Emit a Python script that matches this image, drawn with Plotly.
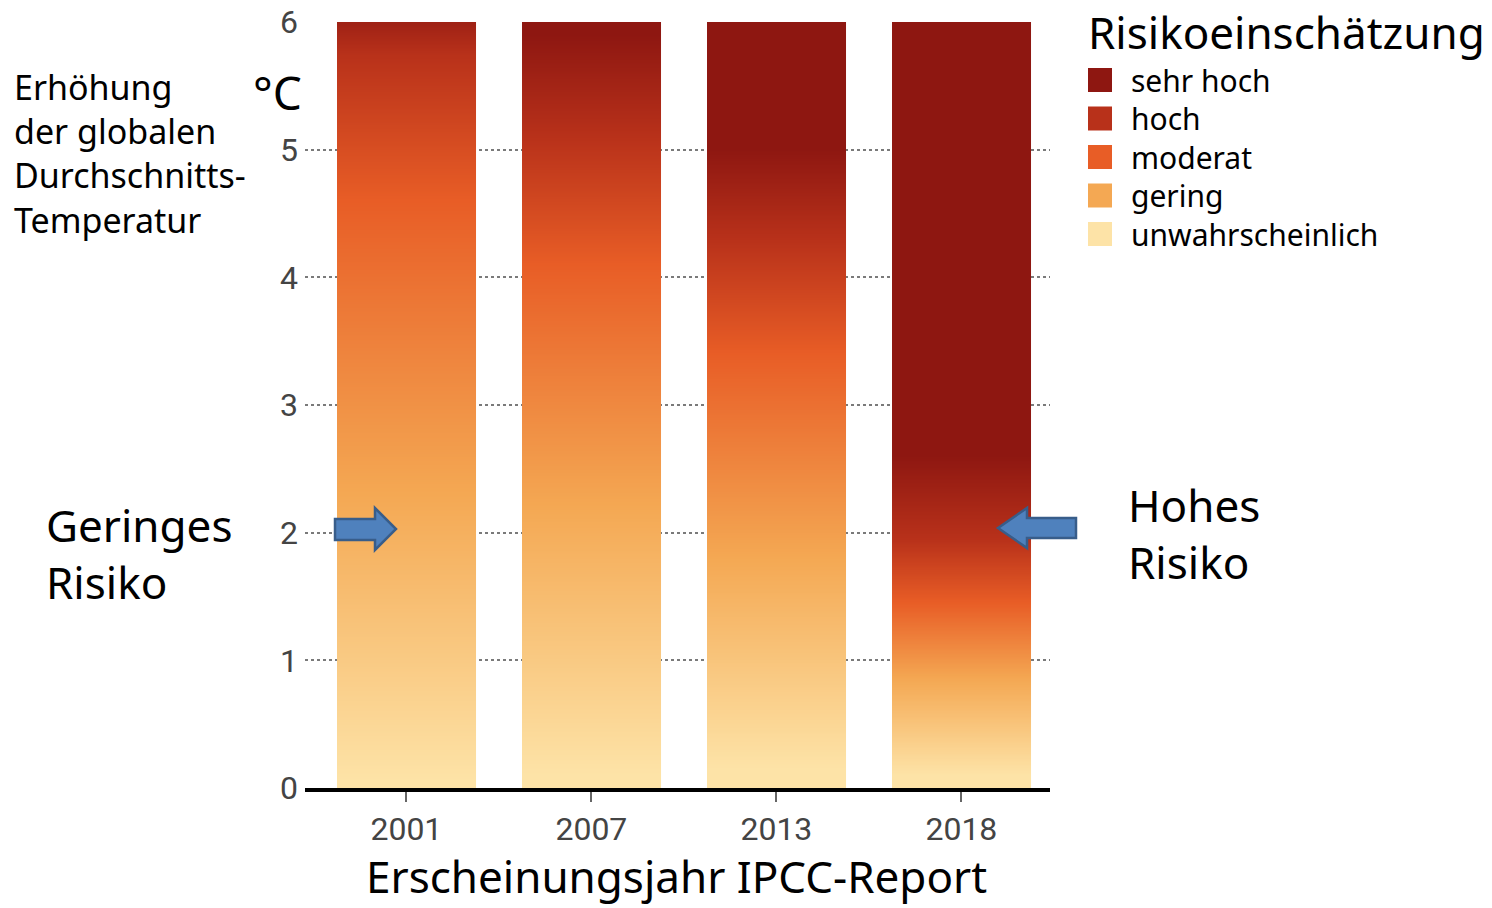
import numpy as np
import plotly.graph_objects as go

# Report years and the five risk categories
years = ["2001", "2007", "2013", "2018"]
risk_levels = ["unwahrscheinlich", "gering", "moderat", "hoch", "sehr hoch"]
risk_colors = ["#FDE3A7", "#F4A853", "#E85D26", "#B8311A", "#8E1711"]

# Warming (°C) at which each risk category is reached, per report
# (order: unwahrscheinlich, gering, moderat, hoch, sehr hoch)
onset_2001 = [0.05, 2.3, 4.6, 5.75, 6.15]
onset_2007 = [0.10, 2.2, 4.1, 5.1, 5.9]
onset_2013 = [0.15, 1.8, 3.4, 4.3, 5.0]
onset_2018 = [0.10, 0.85, 1.45, 1.95, 2.6]
onsets = [onset_2001, onset_2007, onset_2013, onset_2018]

y_ticks = [0, 1, 2, 3, 4, 5, 6]
t_max = 6.0
bar_width = 0.75

W, H = 1492, 908
ML, MR, MT, MB = 305, 442, 22, 120
PW, PH = W - ML - MR, H - MT - MB


def fx(px):
    return (px - ML) / PW


def fy(py):
    return (H - MB - py) / PH


text_font = "Noto Sans, Open Sans, sans-serif"
tick_font = "Roboto, sans-serif"

colorscale = [[k / (len(risk_colors) - 1), c] for k, c in enumerate(risk_colors)]

fig = go.Figure()

# each bar is a one-column heatmap whose colour follows the risk level
edges = np.linspace(0, t_max, 601)
centres = 0.5 * (edges[:-1] + edges[1:])
for i, (year, onset) in enumerate(zip(years, onsets)):
    level = np.interp(centres, onset, np.arange(len(risk_levels)))
    fig.add_trace(go.Heatmap(
        x=[i - bar_width / 2, i + bar_width / 2],
        y=edges,
        z=level.reshape(-1, 1),
        zmin=0, zmax=len(risk_levels) - 1,
        colorscale=colorscale,
        showscale=False,
        name=year,
        hovertemplate=year + ": %{y:.1f} °C<extra></extra>",
    ))

fig.update_layout(
    width=W, height=H,
    margin=dict(l=ML, r=MR, t=MT, b=MB, autoexpand=False),
    paper_bgcolor="white", plot_bgcolor="white",
    showlegend=False,
    xaxis=dict(
        range=[-0.548, 3.479],
        tickvals=list(range(len(years))), ticktext=years,
        showline=True, linecolor="black", linewidth=4,
        ticks="outside", ticklen=10, tickwidth=1.5, tickcolor="#666",
        tickfont=dict(family=tick_font, size=32, color="#444"),
        showgrid=False, zeroline=False, automargin=False,
    ),
    yaxis=dict(
        range=[0, t_max],
        tickvals=y_ticks,
        showline=False, ticks="", ticklabelstandoff=6,
        tickfont=dict(family=tick_font, size=32, color="#444"),
        showgrid=True, gridcolor="#7a7a7a", gridwidth=1.5, griddash="dot",
        zeroline=False, automargin=False,
    ),
)

annotations = [
    dict(text="Erhöhung<br>der globalen<br>Durchschnitts-<br>Temperatur",
         x=fx(12), y=fy(153), xanchor="left", yanchor="middle", align="left",
         font=dict(size=34, family=text_font, color="black")),
    dict(text="°C", x=fx(251), y=fy(92), xanchor="left", yanchor="middle",
         font=dict(size=46, family=text_font, color="black")),
    dict(text="Geringes<br>Risiko", x=fx(44), y=fy(553), xanchor="left",
         yanchor="middle", align="left",
         font=dict(size=44, family=text_font, color="black")),
    dict(text="Hohes<br>Risiko", x=fx(1126), y=fy(533), xanchor="left",
         yanchor="middle", align="left",
         font=dict(size=44, family=text_font, color="black")),
    dict(text="Erscheinungsjahr IPCC-Report", x=fx(676), y=fy(876),
         xanchor="center", yanchor="middle",
         font=dict(size=44, family=text_font, color="black")),
    dict(text="Risikoeinschätzung", x=fx(1086), y=fy(32), xanchor="left",
         yanchor="middle",
         font=dict(size=44, family=text_font, color="black")),
]

shapes = []
# legend: swatches and labels, highest risk first
for k, (name, col) in enumerate(zip(risk_levels[::-1], risk_colors[::-1])):
    cy = 80 + 38.5 * k
    shapes.append(dict(type="rect", xref="paper", yref="paper",
                       x0=fx(1088), x1=fx(1112), y0=fy(cy + 12), y1=fy(cy - 12),
                       fillcolor=col, line=dict(width=0), layer="above"))
    annotations.append(dict(text=name, x=fx(1129), y=fy(cy), xanchor="left",
                            yanchor="middle", showarrow=False,
                            font=dict(size=30, family=text_font, color="black")))


def block_arrow(pts):
    path = "M " + " L ".join(f"{fx(a):.5f},{fy(b):.5f}" for a, b in pts) + " Z"
    return dict(type="path", xref="paper", yref="paper", path=path,
                fillcolor="#4F81BD", line=dict(color="#385D8A", width=2.5),
                layer="above")


# arrow pointing right into the 2001 bar
shapes.append(block_arrow([(335, 519), (375, 519), (375, 508), (396, 529),
                           (375, 550), (375, 540), (335, 540)]))
# arrow pointing left into the 2018 bar
shapes.append(block_arrow([(1076, 518), (1027, 518), (1027, 508), (998, 528),
                           (1027, 548), (1027, 538), (1076, 538)]))

for a in annotations:
    a.setdefault("showarrow", False)
    a["xref"] = "paper"
    a["yref"] = "paper"

fig.update_layout(annotations=annotations, shapes=shapes)

fig.write_html("out.html")
